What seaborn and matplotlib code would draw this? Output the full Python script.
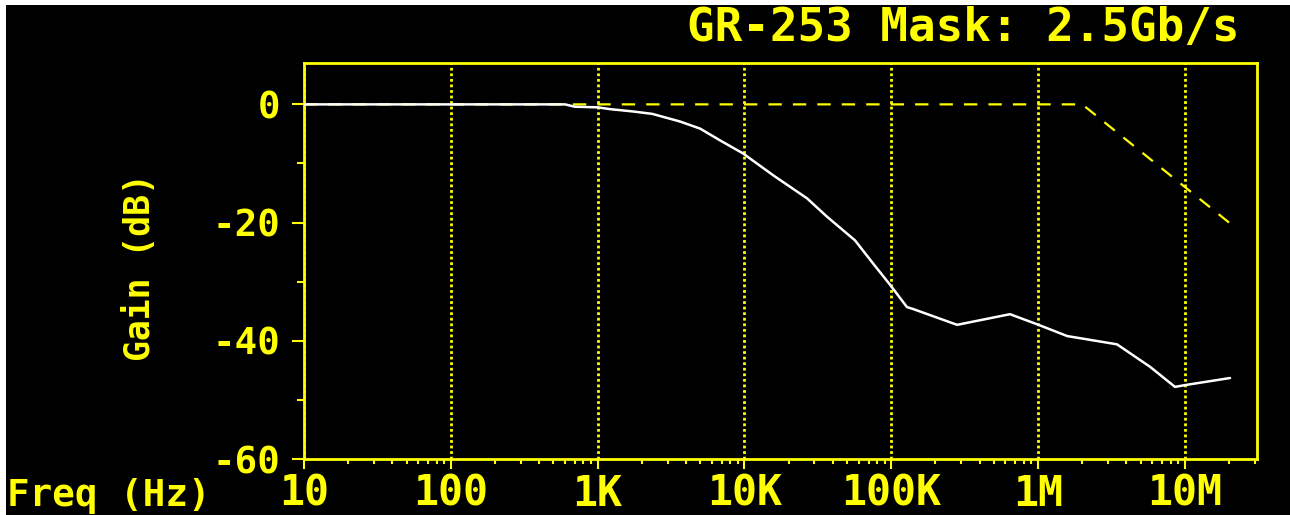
import matplotlib
matplotlib.use("Agg")
import matplotlib.pyplot as plt
from matplotlib.patches import Rectangle
from matplotlib.ticker import FixedLocator, FixedFormatter, LogLocator, MultipleLocator, NullFormatter
import seaborn as sns

# ---- data ----
freq_hz = [10, 100, 600, 700, 1000, 1210, 1740, 2350, 3640, 4990, 6830, 9780,
           15.7e3, 26.7e3, 36.5e3, 56.6e3, 75.1e3, 98e3, 128e3, 140e3, 281e3,
           644e3, 984e3, 1.58e6, 3.45e6, 5.79e6, 8.57e6, 1.0e7, 2.03e7]
gain_db = [0, 0, 0, -0.4, -0.5, -0.8, -1.2, -1.6, -2.9, -4.1, -6.1, -8.3,
           -12.0, -15.9, -19.0, -23.0, -26.9, -30.5, -34.3, -34.6, -37.3,
           -35.5, -37.2, -39.2, -40.6, -44.4, -47.8, -47.5, -46.3]
mask_hz = [10, 2e6, 2e7]
mask_db = [0, 0, -20]
xtick_vals = [10, 100, 1e3, 1e4, 1e5, 1e6, 1e7]
xtick_labels = ["10", "100", "1K", "10K", "100K", "1M", "10M"]
ytick_vals = [0, -20, -40, -60]
title_text = "GR-253 Mask: 2.5Gb/s"
xlabel_text = "Freq (Hz)"
ylabel_text = "Gain (dB)"

YEL = "#ffff00"
sns.set_style("dark")
plt.rcParams["font.family"] = ["DejaVu Sans Mono", "DejaVu Sans"]
plt.rcParams["font.weight"] = "bold"
plt.rcParams["axes.unicode_minus"] = False

fig = plt.figure(figsize=(12.9, 5.15), dpi=100, facecolor="white")
fig.add_artist(Rectangle((6 / 1290, 0), 1, (515 - 5) / 515, transform=fig.transFigure,
                         facecolor="black", edgecolor="none", zorder=-10))
ax = fig.add_axes([304 / 1290, 56 / 515, (1257 - 304) / 1290, (459 - 63) / 515])
ax.set_facecolor("black")
ax.set_xscale("log")

sns.lineplot(x=mask_hz, y=mask_db, ax=ax, color=YEL, lw=1.6,
             linestyle=(0, (6, 5)), zorder=3)
sns.lineplot(x=freq_hz, y=gain_db, ax=ax, color="white", lw=1.8, zorder=4)

ax.set_xlim(10, 3.1e7)
ax.set_ylim(-60, 7)

ax.xaxis.set_major_locator(FixedLocator(xtick_vals))
ax.xaxis.set_major_formatter(FixedFormatter(xtick_labels))
ax.xaxis.set_minor_locator(LogLocator(base=10, subs=range(2, 10), numticks=20))
ax.xaxis.set_minor_formatter(NullFormatter())
ax.yaxis.set_major_locator(FixedLocator(ytick_vals))
ax.yaxis.set_minor_locator(MultipleLocator(10))

ax.tick_params(axis="both", which="both", colors=YEL, direction="out", width=1.5)
ax.tick_params(axis="x", which="major", length=7, pad=3, labelsize=30)
ax.tick_params(axis="x", which="minor", length=3.5)
ax.tick_params(axis="y", which="major", length=9, pad=8, labelsize=27)
ax.tick_params(axis="y", which="minor", length=5)
ax.tick_params(bottom=True, left=True, which="both")

ax.grid(False)
ax.grid(axis="x", which="major", color=YEL, linestyle=(0, (1, 1)), lw=2)

for s in ax.spines.values():
    s.set_visible(True)
    s.set_color(YEL)
    s.set_linewidth(2)

ax.set_ylabel(ylabel_text, color=YEL, fontsize=25, fontweight="bold")
ax.yaxis.set_label_coords((140 - 304) / 953, (459 - 267.5) / 396)
ax.yaxis.label.set_verticalalignment("center")
ax.set_xlabel("")

fig.text(7 / 1290, 1 - 506 / 515, xlabel_text, color=YEL, fontsize=27,
         fontweight="bold", ha="left", va="baseline")
fig.text(963 / 1290, 1 - 41 / 515, title_text, color=YEL, fontsize=33,
         fontweight="bold", ha="center", va="baseline")

fig.savefig("out.png", dpi=100, facecolor=fig.get_facecolor())
